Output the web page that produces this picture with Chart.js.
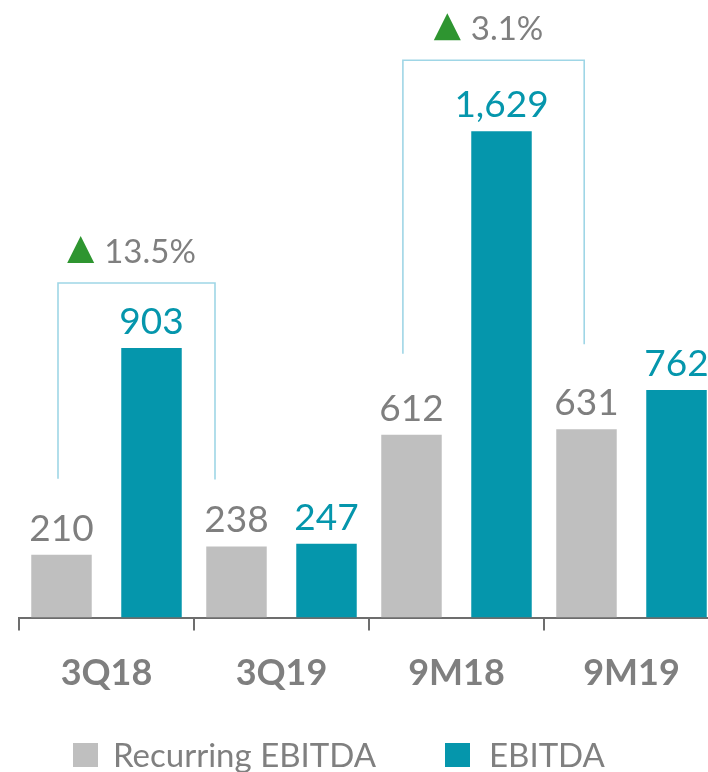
<!DOCTYPE html>
<html>
<head>
<meta charset="utf-8">
<script src="https://cdn.jsdelivr.net/npm/chart.js@4.4.1/dist/chart.umd.min.js"></script>
<style>
  html, body { margin: 0; padding: 0; background: #ffffff; overflow: hidden; }
  #wrap { width: 720px; height: 772px; }
</style>
</head>
<body>
<div id="wrap"><canvas id="c" width="720" height="772"></canvas></div>
<script>
const categories = ['3Q18', '3Q19', '9M18', '9M19'];
const seriesNames = ['Recurring EBITDA', 'EBITDA'];
const recurringValues = [210, 238, 612, 631];
const ebitdaValues = [903, 247, 1629, 762];
const changeFrom = [0, 2];
const changeTo = [1, 3];
const changeLabels = ['13.5%', '3.1%'];

const GRAY = '#bfbfbf';
const TEAL = '#0596ac';
const TEXT_GRAY = '#7f7f7f';
const GREEN = '#2e9530';
const BRACKET = '#9fd6e6';

// per-bracket drawing offsets (style only)
const bracketStyle = [
  { dxL: -3.5, dxR: -21.5, topGap: 65, botL: 76, botR: 67 },
  { dxL: -8.6, dxR: -2.3, topGap: 71, botL: 81, botR: 85 }
];
// legend item placement (style only)
const legendBoxX = [73, 445];
const legendTextX = [113, 489];
const legendBoxTop = 743;

const valueLabels = {
  id: 'valueLabels',
  afterDatasetsDraw(chart) {
    const ctx = chart.ctx;
    ctx.save();
    ctx.font = '37px Lato';
    ctx.textAlign = 'center';
    ctx.textBaseline = 'alphabetic';
    chart.data.datasets.forEach((ds, di) => {
      const meta = chart.getDatasetMeta(di);
      ctx.fillStyle = di === 0 ? TEXT_GRAY : TEAL;
      meta.data.forEach((bar, i) => {
        ctx.fillText(ds.data[i].toLocaleString('en-US'), bar.x, bar.y - 14);
      });
    });
    ctx.restore();
  }
};

const changeBrackets = {
  id: 'changeBrackets',
  afterDatasetsDraw(chart) {
    const ctx = chart.ctx;
    const m0 = chart.getDatasetMeta(0);
    const m1 = chart.getDatasetMeta(1);
    ctx.save();
    changeLabels.forEach((lab, k) => {
      const st = bracketStyle[k];
      const a = changeFrom[k], b = changeTo[k];
      const left = m0.data[a];
      const right = m0.data[b];
      let topBar = Infinity;
      for (let i = a; i <= b; i++) {
        topBar = Math.min(topBar, m0.data[i].y, m1.data[i].y);
      }
      const xL = left.x + st.dxL;
      const xR = right.x + st.dxR;
      const yT = topBar - st.topGap;
      const yBL = left.y - st.botL;
      const yBR = right.y - st.botR;
      ctx.strokeStyle = BRACKET;
      ctx.lineWidth = 1.6;
      ctx.beginPath();
      ctx.moveTo(xL, yBL);
      ctx.lineTo(xL, yT);
      ctx.lineTo(xR, yT);
      ctx.lineTo(xR, yBR);
      ctx.stroke();

      ctx.font = '33px Lato';
      const tw = ctx.measureText(lab).width;
      const triW = 27, gap = 10;
      const total = triW + gap + tw;
      const cx = (xL + xR) / 2 - 5;
      const x0 = cx - total / 2;
      const base = yT - 20;
      ctx.fillStyle = GREEN;
      ctx.beginPath();
      ctx.moveTo(x0, base);
      ctx.lineTo(x0 + triW, base);
      ctx.lineTo(x0 + triW / 2, base - 27);
      ctx.closePath();
      ctx.fill();
      ctx.fillStyle = TEXT_GRAY;
      ctx.textAlign = 'left';
      ctx.textBaseline = 'alphabetic';
      ctx.fillText(lab, x0 + triW + gap, base);
    });
    ctx.restore();
  }
};

const bottomLegend = {
  id: 'bottomLegend',
  afterDraw(chart) {
    const ctx = chart.ctx;
    ctx.save();
    ctx.font = '33px Lato';
    ctx.textAlign = 'left';
    ctx.textBaseline = 'alphabetic';
    chart.data.datasets.forEach((ds, di) => {
      ctx.fillStyle = ds.backgroundColor;
      ctx.fillRect(legendBoxX[di], legendBoxTop, 25, 24);
      ctx.fillStyle = '#808080';
      ctx.fillText(ds.label, legendTextX[di], legendBoxTop + 24);
    });
    ctx.restore();
  }
};

new Chart(document.getElementById('c'), {
  type: 'bar',
  data: {
    labels: categories,
    datasets: [
      { label: seriesNames[0], data: recurringValues, backgroundColor: GRAY, borderWidth: 0,
        categoryPercentage: 1.0286, barPercentage: 0.672 },
      { label: seriesNames[1], data: ebitdaValues, backgroundColor: TEAL, borderWidth: 0,
        categoryPercentage: 1.0286, barPercentage: 0.672 }
    ]
  },
  options: {
    responsive: false,
    devicePixelRatio: 1,
    animation: false,
    layout: { padding: { top: 20.5, left: 0, right: 1, bottom: 64.5 } },
    plugins: {
      tooltip: { enabled: false },
      legend: { display: false }
    },
    scales: {
      x: {
        offset: true,
        grid: { display: true, offset: true, drawOnChartArea: false, drawTicks: true,
                tickLength: 13, color: '#6d6d6d', lineWidth: 2 },
        border: { display: true, color: '#6d6d6d', width: 2 },
        ticks: { color: TEXT_GRAY, padding: 21, font: { family: 'Lato', size: 36, weight: 'bold' } },
        afterFit(scale) { scale.height = 90; }
      },
      y: {
        min: 0,
        max: 2000,
        ticks: { display: false },
        grid: { display: false },
        border: { display: false },
        afterFit(scale) { scale.width = 19; }
      }
    }
  },
  plugins: [valueLabels, changeBrackets, bottomLegend]
});
</script>
</body>
</html>
